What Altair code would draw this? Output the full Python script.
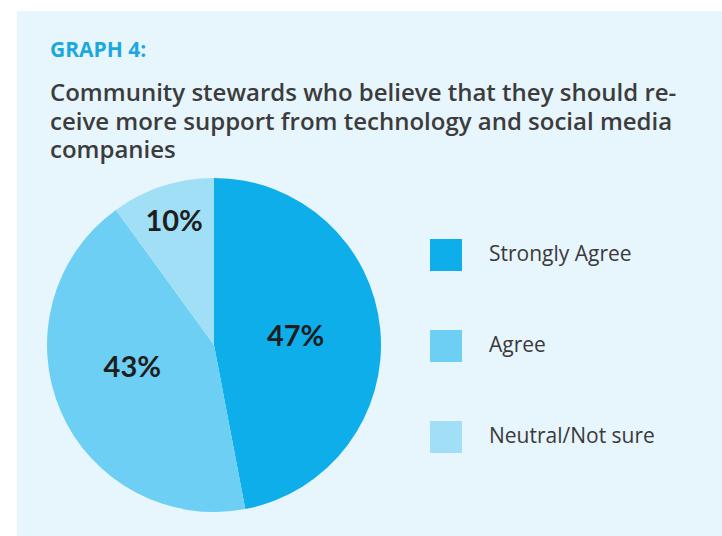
import altair as alt
import pandas as pd
import math

# ---- data ----
categories = ["Strongly Agree", "Agree", "Neutral/Not sure"]
shares = [47, 43, 10]
labels = ["47%", "43%", "10%"]
slice_order = [0, 1, 2]
colors = ["#0daeea", "#6dcff3", "#a0dff6"]
title_text = "GRAPH 4:"
subtitle_lines = [
    "Community stewards who believe that they should re-",
    "ceive more support from technology and social media",
    "companies",
]

df = pd.DataFrame({"category": categories, "share": shares,
                   "label": labels, "order": slice_order})

W, H = 705, 525
CX, CY = 197, 334
R = 167

pie = alt.Chart(df).mark_arc(outerRadius=R, strokeWidth=0).encode(
    theta=alt.Theta("share:Q", stack=True),
    order=alt.Order("order:Q"),
    x=alt.value(CX),
    y=alt.value(CY),
    color=alt.Color(
        "category:N",
        sort=categories,
        scale=alt.Scale(domain=categories, range=colors),
        legend=alt.Legend(
            title=None, orient="none", legendX=413, legendY=228,
            symbolType="square", symbolSize=1024, symbolStrokeWidth=0,
            labelFont="Open Sans", labelFontSize=21, labelColor="#3a3a3a",
            labelOffset=27, rowPadding=59, padding=0, labelLimit=300,
        ),
    ),
)

pct = alt.Chart(df).transform_window(
    cum="sum(share)", sort=[alt.SortField("order")]
).transform_joinaggregate(
    total="sum(share)"
).transform_calculate(
    mid="(datum.cum - datum.share / 2) / datum.total * 2 * PI + (datum.share < 20 ? 0 : (datum.order == 1 ? 0.13 : 0))",
    lr="datum.share < 20 ? 129 : (datum.order == 1 ? 85 : 82)",
).mark_text(
    font="Lato", fontSize=29, fontWeight="bold", color="#1e1e1e",
    align="center", baseline="middle",
).encode(
    x=alt.value(CX),
    y=alt.value(CY),
    theta=alt.Theta("mid:Q", scale=None, stack=None),
    radius=alt.Radius("lr:Q", scale=None),
    text="label:N",
)

title_df = pd.DataFrame({"t": [0]})
title = alt.Chart(title_df).mark_text(
    font="Open Sans", fontSize=21, fontWeight="bold", color="#1ba8e0",
    align="left", baseline="alphabetic",
).encode(x=alt.value(33), y=alt.value(46), text=alt.value(title_text))

subtitle = alt.Chart(title_df).mark_text(
    font="Open Sans", fontSize=24, fontWeight=600, color="#3c3c3c",
    align="left", baseline="alphabetic", lineHeight=28.7,
).encode(x=alt.value(33), y=alt.value(90), text=alt.value(subtitle_lines))

chart = alt.layer(pie, pct, title, subtitle).properties(
    width=W, height=H,
    autosize=alt.AutoSizeParams(type="none"),
    padding={"left": 17, "top": 11, "right": 0, "bottom": 0},
    background="white",
).configure_view(fill="#e7f5fd", stroke=None)

chart.save("out.html", embed_options={"renderer": "svg", "actions": False})
